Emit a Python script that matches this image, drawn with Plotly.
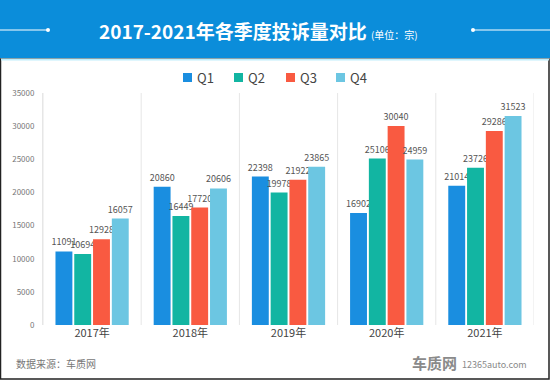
import plotly.graph_objects as go

years = ["2017年", "2018年", "2019年", "2020年", "2021年"]
q1 = [11091, 20860, 22398, 16902, 21014]
q2 = [10694, 16449, 19978, 25106, 23726]
q3 = [12928, 17720, 21922, 30040, 29286]
q4 = [16057, 20606, 23865, 24959, 31523]
series_names = ["Q1", "Q2", "Q3", "Q4"]
colors = ["#1a8ee0", "#12b5a2", "#f95a41", "#6cc6e2"]
legend_px = [183, 234, 286, 336]

W, H = 550, 380
L, R, T, B = 43, 16, 93, 55
pw, ph = W - L - R, H - T - B

def px_x(px):
    return (px - L) / pw

def px_y(py):
    return (H - B - py) / ph

FONT = "Noto Sans CJK SC"
fig = go.Figure()
for name, vals, c in zip(series_names, [q1, q2, q3, q4], colors):
    fig.add_trace(go.Bar(
        name=name, x=years, y=vals, marker_color=c, marker_line_width=0,
        text=[str(v) for v in vals], textposition="outside", cliponaxis=False,
        constraintext="none", showlegend=False,
        textfont=dict(size=9, color="#555555", family=FONT),
    ))

shapes = []
# title bar
shapes.append(dict(type="rect", xref="paper", yref="paper", x0=px_x(0), x1=px_x(W),
                   y0=px_y(58), y1=px_y(0), fillcolor="#0b8dda", line_width=0, layer="below"))
# outer border
shapes.append(dict(type="rect", xref="paper", yref="paper", x0=px_x(0.5), x1=px_x(W - 1),
                   y0=px_y(H - 1), y1=px_y(59), fillcolor="rgba(0,0,0,0)",
                   line=dict(color="#222222", width=1.5)))
shapes.append(dict(type="line", xref="paper", yref="paper", x0=px_x(1), x1=px_x(W - 1),
                   y0=px_y(59.5), y1=px_y(59.5), line=dict(color="#bfeefc", width=2)))
# decorative lines in title bar
shapes.append(dict(type="line", xref="paper", yref="paper", x0=px_x(0), x1=px_x(48),
                   y0=px_y(30), y1=px_y(30), line=dict(color="white", width=1)))
shapes.append(dict(type="line", xref="paper", yref="paper", x0=px_x(473), x1=px_x(W),
                   y0=px_y(30), y1=px_y(30), line=dict(color="white", width=1)))
for cx in (48, 473):
    shapes.append(dict(type="circle", xref="paper", yref="paper",
                       x0=px_x(cx - 2), x1=px_x(cx + 2), y0=px_y(32), y1=px_y(28),
                       fillcolor="white", line_width=0))
# category separators
for i in range(len(years) + 1):
    shapes.append(dict(type="line", xref="x", yref="paper", x0=i - 0.5, x1=i - 0.5,
                       y0=0, y1=1, line=dict(color="#e6e6e6", width=1), layer="below"))

annotations = [
    dict(text="<b>2017-2021年各季度投诉量对比</b> <span style='font-size:10px'>(单位：宗)</span>",
         xref="paper", yref="paper", x=px_x(258), y=px_y(30), xanchor="center", yanchor="middle",
         showarrow=False, font=dict(size=19, color="white", family=FONT)),
    dict(text="数据来源：车质网", xref="paper", yref="paper", x=px_x(14), y=px_y(363),
         xanchor="left", yanchor="middle", showarrow=False,
         font=dict(size=10, color="#777777", family=FONT)),
    dict(text="<b>车质网</b>", xref="paper", yref="paper", x=px_x(410), y=px_y(362),
         xanchor="left", yanchor="middle", showarrow=False,
         font=dict(size=15, color="#8a8a8a", family=FONT)),
    dict(text="12365auto.com", xref="paper", yref="paper", x=px_x(460), y=px_y(364),
         xanchor="left", yanchor="middle", showarrow=False,
         font=dict(size=9, color="#8a8a8a", family=FONT)),
]

# custom legend
for name, c, lx in zip(series_names, colors, legend_px):
    shapes.append(dict(type="rect", xref="paper", yref="paper", x0=px_x(lx), x1=px_x(lx + 9),
                       y0=px_y(82), y1=px_y(73), fillcolor=c, line_width=0))
    annotations.append(dict(text=name, xref="paper", yref="paper", x=px_x(lx + 12), y=px_y(77.5),
                            xanchor="left", yanchor="middle", showarrow=False,
                            font=dict(size=13, color="#444444", family=FONT)))

fig.update_layout(
    width=W, height=H, margin=dict(l=L, r=R, t=T, b=B),
    paper_bgcolor="white", plot_bgcolor="white",
    barmode="group", bargap=0.235, bargroupgap=0.1,
    font=dict(family=FONT, color="#555555"),
    showlegend=False,
    shapes=shapes, annotations=annotations,
    xaxis=dict(showline=False, ticks="", tickfont=dict(size=11, color="#444444"),
               showgrid=False, range=[-0.5, 4.5]),
    yaxis=dict(range=[0, 35000], dtick=5000, tickformat="d", showgrid=False, zeroline=False,
               showline=True, linecolor="#e6e6e6", linewidth=1, ticks="",
               tickfont=dict(size=8, color="#777777"), ticklabelstandoff=6),
)
fig.write_html("out.html", config={"displayModeBar": False},
               post_script="document.body.style.margin='0px';")
